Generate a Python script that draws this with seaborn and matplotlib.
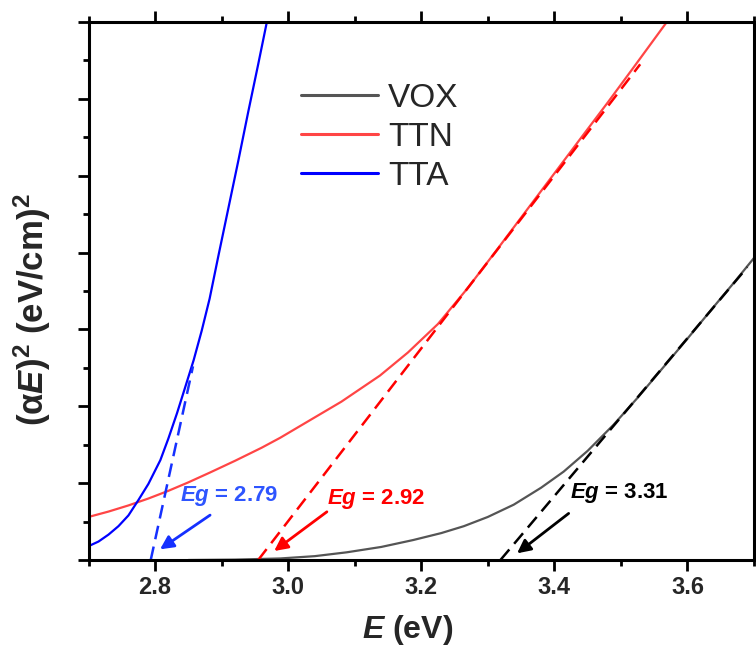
import matplotlib
matplotlib.use('Agg')
import matplotlib.pyplot as plt
import seaborn as sns
from matplotlib.ticker import MultipleLocator

# ---- data (x: photon energy E in eV, y: (alpha E)^2, arbitrary units) ----
vox_E = [2.850, 2.920, 2.988, 3.040, 3.088, 3.140, 3.188, 3.230, 3.264, 3.300, 3.339,
         3.380, 3.414, 3.450, 3.489, 3.525, 3.564, 3.600, 3.640, 3.670, 3.700]
vox_y = [0.00, 0.005, 0.02, 0.05, 0.10, 0.17, 0.26, 0.35, 0.44, 0.56, 0.72,
         0.94, 1.15, 1.42, 1.76, 2.11, 2.51, 2.88, 3.30, 3.61, 3.93]

ttn_E = [2.700, 2.730, 2.760, 2.790, 2.820, 2.850, 2.883, 2.920, 2.960, 2.988, 3.033,
         3.080, 3.138, 3.180, 3.225, 3.270, 3.314, 3.360, 3.400, 3.439, 3.480, 3.520, 3.569]
ttn_y = [0.56, 0.63, 0.71, 0.80, 0.90, 1.01, 1.14, 1.29, 1.46, 1.59, 1.82,
         2.06, 2.40, 2.70, 3.07, 3.54, 4.04, 4.57, 5.03, 5.48, 5.95, 6.42, 7.00]

tta_E = [2.700, 2.715, 2.730, 2.745, 2.760, 2.775, 2.790, 2.808, 2.820, 2.833, 2.845,
         2.858, 2.870, 2.882, 2.895, 2.910, 2.925, 2.940, 2.955, 2.968]
tta_y = [0.18, 0.24, 0.33, 0.44, 0.58, 0.78, 0.99, 1.30, 1.58, 1.91, 2.24,
         2.60, 2.98, 3.40, 3.95, 4.57, 5.19, 5.83, 6.45, 7.00]

# linear (Tauc) fits: [E_start, E_end], [y_start, y_end]
vox_fit_E = [3.319, 3.690]
vox_fit_y = [0.00, 3.81]
ttn_fit_E = [2.955, 3.529]
ttn_fit_y = [0.00, 6.45]
tta_fit_E = [2.7935, 2.857]
tta_fit_y = [0.00, 2.52]

labels = ['VOX', 'TTN', 'TTA']
eg_texts = ['3.31', '2.92', '2.79']

x_ticks = [2.8, 3.0, 3.2, 3.4, 3.6]
x_tick_labels = ['2.8', '3.0', '3.2', '3.4', '3.6']

# ---- style ----
sns.set_style('ticks')
plt.rcParams['font.family'] = ['Liberation Sans', 'DejaVu Sans']
plt.rcParams['mathtext.fontset'] = 'custom'
plt.rcParams['mathtext.rm'] = 'Liberation Sans:bold'
plt.rcParams['mathtext.it'] = 'Liberation Sans:bold:italic'
plt.rcParams['mathtext.bf'] = 'Liberation Sans:bold'

c_vox, c_ttn, c_tta = '#555555', '#FF4545', '#0000FF'

fig = plt.figure(figsize=(7.56, 6.48), dpi=100)
ax = fig.add_axes([88.5 / 756, 88 / 648, 665.5 / 756, 538 / 648])

sns.lineplot(x=vox_E, y=vox_y, color=c_vox, lw=1.6, label=labels[0], ax=ax)
sns.lineplot(x=ttn_E, y=ttn_y, color=c_ttn, lw=1.6, label=labels[1], ax=ax)
sns.lineplot(x=tta_E, y=tta_y, color=c_tta, lw=1.6, label=labels[2], ax=ax)

dash = (5.5, 3)
sns.lineplot(x=vox_fit_E, y=vox_fit_y, color='black', lw=1.8, ax=ax, legend=False).lines[-1].set_dashes(dash)
sns.lineplot(x=ttn_fit_E, y=ttn_fit_y, color='#FF0000', lw=1.8, ax=ax, legend=False).lines[-1].set_dashes(dash)
sns.lineplot(x=tta_fit_E, y=tta_fit_y, color='#1530FF', lw=1.8, ax=ax, legend=False).lines[-1].set_dashes(dash)

# arrows
arrow_kw = dict(arrowstyle='-|>', lw=2, mutation_scale=20, shrinkA=0, shrinkB=0)
ax.annotate('', xy=(2.8075, 0.139), xytext=(2.8827, 0.584),
            arrowprops=dict(color='#1530FF', **arrow_kw))
ax.annotate('', xy=(2.979, 0.117), xytext=(3.0582, 0.627),
            arrowprops=dict(color='#FF0000', **arrow_kw))
ax.annotate('', xy=(3.344, 0.087), xytext=(3.4215, 0.606),
            arrowprops=dict(color='black', **arrow_kw))

# Eg labels
ax.text(2.8376, 0.83, '$Eg$ = ' + eg_texts[2], color='#2E55FF', fontsize=16,
        fontweight='bold', va='center', ha='left')
ax.text(3.059, 0.80, '$Eg$ = ' + eg_texts[1], color='#FF0000', fontsize=16,
        fontweight='bold', va='center', ha='left')
ax.text(3.423, 0.87, '$Eg$ = ' + eg_texts[0], color='black', fontsize=16,
        fontweight='bold', va='center', ha='left')

# axes
ax.set_xlim(2.7, 3.7)
ax.set_ylim(0, 7)
ax.set_xticks(x_ticks)
ax.set_xticklabels(x_tick_labels)
ax.xaxis.set_minor_locator(MultipleLocator(0.1))
ax.yaxis.set_major_locator(MultipleLocator(1))
ax.yaxis.set_minor_locator(MultipleLocator(0.5))
ax.tick_params(which='both', direction='out', top=True, right=False,
               labeltop=False, labelleft=False, width=2, color='black')
ax.tick_params(which='major', length=8)
ax.tick_params(which='minor', length=4.5)
for lab in ax.get_xticklabels():
    lab.set_fontsize(17)
    lab.set_fontweight('bold')
for s in ax.spines.values():
    s.set_visible(True)
    s.set_linewidth(2.2)
    s.set_color('black')

xl = ax.set_xlabel('$E$ (eV)', fontsize=23, fontweight='bold')
xl.set_va('center')
ax.xaxis.set_label_coords((408 - 88.5) / 665.5, -(630 - 560) / 538)
yl = ax.set_ylabel('(α$E$)$^2$ (eV/cm)$^2$', fontsize=25, fontweight='bold')
yl.set_va('center')
ax.yaxis.set_label_coords(-(88.5 - 32) / 665.5, (560 - 310) / 538)

leg = ax.legend(loc='upper left', bbox_to_anchor=(0.32, 0.887), frameon=False,
                fontsize=24, handlelength=2.3, handletextpad=0.3, labelspacing=0.24,
                borderpad=0, borderaxespad=0)
for h in leg.get_lines():
    h.set_linewidth(2.2)

fig.savefig('out.png', dpi=100)
